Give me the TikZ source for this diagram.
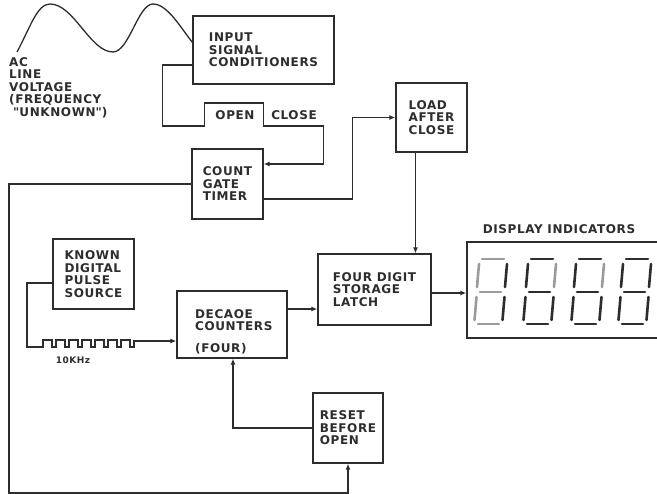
\documentclass[tikz,border=0pt]{standalone}
\usepackage{fontspec}
\setmainfont{DejaVu Sans}[LetterSpace=5]
\usepackage{tikz}
\usetikzlibrary{arrows.meta}
\definecolor{Ink}{RGB}{45,45,45}
\definecolor{Unlit}{RGB}{155,155,155}
\newcommand{\lettering}{\fontsize{12}{12.5}\selectfont\bfseries}

\begin{document}
\begin{tikzpicture}[x=1pt, y=-1pt,
		box/.style={draw=Ink, line width=1.3pt, align=left, font=\lettering, text=Ink, inner sep=0pt},
		lbl/.style={font=\lettering, text=Ink, align=left, inner sep=0pt},
		wire/.style={draw=Ink, line width=1.3pt},
		conn/.style={wire, -{Latex[length=6pt,width=5pt]}},
		seg/.style={line width=2.6pt, line cap=round, Unlit},
		segon/.style={line width=2.6pt, line cap=round, Ink}]
			\clip (0,0) rectangle (657,494);
			\fill[white] (0,0) rectangle (657,494);
			
			% 交流输入
			\draw[wire] (17,52) .. controls (30,28) and (37,4) .. (50,4) .. controls (74,4) and (90,52) .. (113,52) .. controls (129,52) and (138,4) .. (153,4) .. controls (168,4) and (182,30) .. (193,43);
			\node[lbl, anchor=north west] (acv) at (9,57) {AC\\LINE\\VOLTAGE\\(FREQUENCY\\\hspace*{4pt}\textquotedbl UNKNOWN\textquotedbl)};
			
			\node[box, minimum width=141, minimum height=68] (cond) at (263.5,50) {INPUT\\SIGNAL\\CONDITIONERS};
			\node[box, minimum width=71, minimum height=70] (gate) at (227.5,184) {COUNT\\GATE\\TIMER};
			\node[box, minimum width=71, minimum height=69] (load) at (431.5,117.5) {LOAD\\AFTER\\CLOSE};
			\node[box, minimum width=81, minimum height=70] (src) at (93.5,274) {KNOWN\\DIGITAL\\PULSE\\SOURCE};
			\node[box, minimum width=110, minimum height=67] (dec) at (232,324.5) {};
			\node[lbl, anchor=west] (dectxt) at (195,331.5) {DECAOE\\COUNTERS\\[9pt](FOUR)};
			\node[box, minimum width=113, minimum height=71] (latch) at (374.5,289.5) {FOUR DIGIT\\STORAGE\\LATCH};
			\node[box, minimum width=70, minimum height=70] (reset) at (348,428) {RESET\\BEFORE\\OPEN};
			\node[box, minimum width=240, minimum height=96] (disp) at (587,290) {};
			
			\node[lbl] (open) at (235,115) {OPEN};
			\node[lbl] (close) at (294,115) {CLOSE};
			\node[lbl] (dispttl) at (559,229) {DISPLAY INDICATORS};
			\node[lbl, font=\fontsize{9}{10}\selectfont\bfseries] (freq) at (73,360) {10KHz};
			
			% 门控波形
			\draw[conn] ([yshift=-15pt]cond.west) -- ++(-30,0) -- ++(0,61) -- ++(42,0) -- ++(0,-23) -- ++(59,0) -- ++(0,23) -- ++(60,0) |- ([yshift=20pt]gate.east);
			\draw[conn] ([yshift=-15pt]gate.east) -- ++(89,0) |- (load.west);
			\draw[conn] ([xshift=-16pt]load.south) -- ([xshift=-16pt]load.south |- latch.north);
			
			% 10kHz 脉冲
			\draw[conn] ([yshift=-9pt]src.west) -| (27,347) -- (43,347)
				\foreach \k in {0,...,6} { -- ++(0,-7) -- ++(9,0) -- ++(0,7) -- ++(4,0) }
				-- ++(0,-6) -- ([yshift=-16.5pt]dec.west);
			\draw[conn] ([yshift=15.5pt]dec.east) -- ([yshift=15.5pt]dec.east -| latch.west);
			\draw[conn] ([yshift=-3.5pt]latch.east) -- ([yshift=-3.5pt]latch.east -| disp.west);
			
			% 复位
			\coordinate (bot) at (9,493);
			\draw[conn] (gate.west) -| (bot) -| (reset.south);
			\draw[conn] (reset.west) -| ([xshift=1pt]dec.south);
			
			% 七段显示
			\foreach \x/\sa/\sb/\sc/\sd/\se/\sf/\sg in {474/seg/seg/segon/seg/seg/segon/seg, 523/segon/segon/seg/segon/segon/segon/segon, 571/segon/segon/seg/segon/segon/segon/segon, 618/segon/segon/segon/segon/segon/segon/segon} {
				\draw[\sa] (\x+8,259) -- (\x+30,259);
				\draw[\sb] (\x+5,264) -- (\x+3,287);
				\draw[\sc] (\x+33,264) -- (\x+31,287);
				\draw[\sd] (\x+6,292) -- (\x+27,292);
				\draw[\se] (\x+2.5,297) -- (\x+0.5,320);
				\draw[\sf] (\x+30.5,297) -- (\x+28.5,320);
				\draw[\sg] (\x+4,324) -- (\x+25,324);
			}
		\end{tikzpicture}
\end{document}
